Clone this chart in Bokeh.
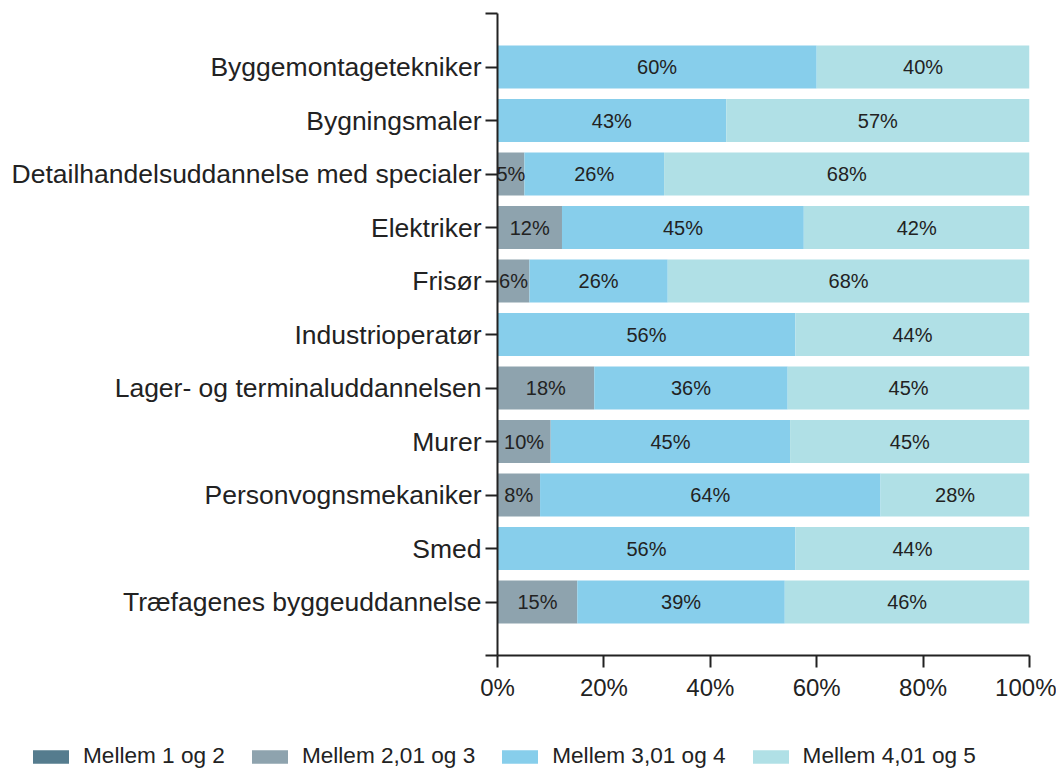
from bokeh.plotting import figure
from bokeh.layouts import column
from bokeh.models import (ColumnDataSource, Range1d, FixedTicker, Legend, LegendItem)
from bokeh.core.properties import value
from bokeh.embed import file_html
from bokeh.resources import INLINE

categories = [
    "Byggemontagetekniker",
    "Bygningsmaler",
    "Detailhandelsuddannelse med specialer",
    "Elektriker",
    "Frisør",
    "Industrioperatør",
    "Lager- og terminaluddannelsen",
    "Murer",
    "Personvognsmekaniker",
    "Smed",
    "Træfagenes byggeuddannelse",
]
series_names = ["Mellem 1 og 2", "Mellem 2,01 og 3", "Mellem 3,01 og 4", "Mellem 4,01 og 5"]
mellem_1_2 = [0, 0, 0, 0, 0, 0, 0, 0, 0, 0, 0]
mellem_2_3 = [0, 0, 5, 12, 6, 0, 18, 10, 8, 0, 15]
mellem_3_4 = [60, 43, 26, 45, 26, 56, 36, 45, 64, 56, 39]
mellem_4_5 = [40, 57, 68, 42, 68, 44, 45, 45, 28, 44, 46]
colors = ["#557c8e", "#8ea3ae", "#87ceeb", "#b0e0e6"]
x_ticks = [0, 20, 40, 60, 80, 100]

raw = [mellem_1_2, mellem_2_3, mellem_3_4, mellem_4_5]
n = len(categories)
totals = [sum(s[i] for s in raw) for i in range(n)]
keys = ["s0", "s1", "s2", "s3"]
data = {"y": [i + 1 for i in range(n)]}
for k, s in zip(keys, raw):
    data[k] = [s[i] * 100.0 / totals[i] for i in range(n)]
source = ColumnDataSource(data)

# label positions
lx, ly, lt = [], [], []
for i in range(n):
    cum = 0.0
    for k, s in zip(keys, raw):
        w = data[k][i]
        if s[i] > 0:
            lx.append(cum + w / 2)
            ly.append(i + 1)
            lt.append(f"{s[i]}%")
        cum += w
lsource = ColumnDataSource(dict(x=lx, y=ly, t=lt))

p = figure(output_backend="svg", toolbar_location=None,
           frame_width=532, frame_height=642,
           min_border_left=497, min_border_top=13, min_border_right=27, min_border_bottom=65,
           x_range=Range1d(0, 100), y_range=Range1d(12, 0))
p.outline_line_color = None
p.xgrid.visible = False
p.ygrid.visible = False
p.background_fill_color = "white"

renderers = p.hbar_stack(keys, y="y", height=0.8, color=colors, line_color=None, source=source)

p.text(x="x", y="y", text="t", source=lsource, text_align="center", text_baseline="middle",
       text_font=value("Liberation Sans"), text_font_size="20px", text_color="#222222")

for ax in (p.xaxis[0], p.yaxis[0]):
    ax.axis_line_color = "#222222"
    ax.axis_line_width = 2
    ax.major_tick_line_color = "#222222"
    ax.major_tick_line_width = 2
    ax.major_tick_in = 0
    ax.major_tick_out = 12
    ax.minor_tick_line_color = None
    ax.major_label_text_font = "Liberation Sans"
    ax.major_label_text_color = "#222222"

p.xaxis.ticker = FixedTicker(ticks=x_ticks)
p.xaxis.major_label_overrides = {t: f"{t}%" for t in x_ticks}
p.xaxis.major_label_text_font_size = "24px"
p.xaxis.major_label_standoff = 6

p.yaxis.ticker = FixedTicker(ticks=list(range(n + 2)))
ov = {i + 1: c for i, c in enumerate(categories)}
ov[0] = ""
ov[n + 1] = ""
p.yaxis.major_label_overrides = ov
p.yaxis.major_label_text_font_size = "26.5px"
p.yaxis.major_label_standoff = 4

# legend strip below the chart
lg = figure(output_backend="svg", toolbar_location=None, width=1056, height=49,
            min_border=0, x_axis_type=None, y_axis_type=None,
            x_range=Range1d(0, 1), y_range=Range1d(0, 1))
lg.frame_align = False
lg.outline_line_color = None
lg.xgrid.visible = False
lg.ygrid.visible = False
dummy = ColumnDataSource(dict(y=[-100], left=[-100], right=[-99]))
lrs = [lg.hbar(y="y", left="left", right="right", height=0.5, color=c, line_color=None, source=dummy)
       for c in colors]
legend = Legend(items=[LegendItem(label=nm, renderers=[r]) for nm, r in zip(series_names, lrs)],
                orientation="horizontal", location=(28, 0),
                glyph_width=45, glyph_height=17, label_standoff=10, spacing=22,
                padding=0, margin=0, border_line_color=None, background_fill_alpha=0,
                label_text_font="Liberation Sans", label_text_font_size="22.6px",
                label_text_color="#222222")
lg.add_layout(legend, "center")

open("out.html", "w").write(file_html(column(p, lg), INLINE))
